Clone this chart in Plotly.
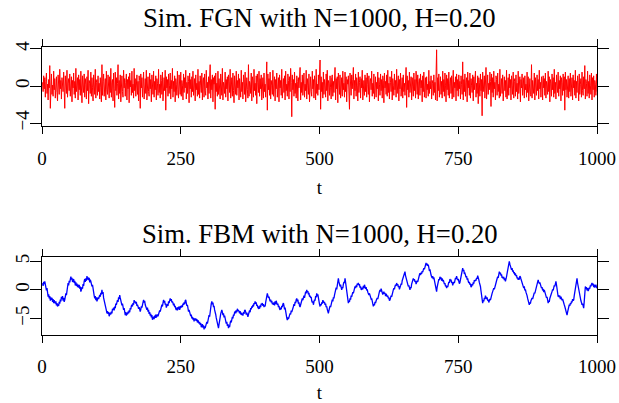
import plotly.graph_objects as go

t = list(range(1, 1001))

fgn = [
    0.4, -0.6, 1.1, -0.3, 0.9, -1.2, 0.5, 1.4, -0.8, 0.2, -1.5, 0.7, -0.2, 2.2, -2.4, 0.6, 1.3, -0.9, 0.1, -1.1,
    1.6, -0.4, 0.8, -1.3, 0.3, 1.0, -0.7, -1.6, 1.2, 0.5, -0.9, 1.8, -0.3, 0.6, -1.4, 0.9, 0.2, -0.6, 1.5, -1.0,
    -2.4, 1.1, 0.4, -0.8, 1.7, -1.2, 0.3, 0.8, -0.5, 1.3,
    -1.1, 0.2, 1.0, -1.7, 0.6, -0.2, 1.4, -0.9, 0.5, -1.3, 1.9, -0.6, 0.1, 0.9, -1.5, 1.2, -0.4, 0.7, -1.0, 1.6,
    -0.3, -1.8, 1.1, 0.4, -0.7, 1.3, -1.2, 0.8, 0.2, -1.4, 1.0, -0.5, 1.7, -1.9, 0.6, 0.3, -0.8, 1.5, -1.1, 0.9,
    -0.2, -1.6, 1.2, 0.5, -0.9, 1.8, -1.3, 0.4, 0.7, -1.0,
    1.1, -0.6, 0.3, -1.4, 0.9, -0.2, -1.7, 2.3, -1.0, 0.5, 1.3, -1.1, 0.2, 0.8, -1.5, 1.6, -0.4, -0.9, 1.2, 0.1,
    -1.3, 1.0, -0.7, 1.9, -1.2, 0.4, 0.7, -1.6, 1.4, -0.3, -2.3, 1.5, -0.5, 0.9, -1.0, 0.3, 2.3, -1.4, 0.6, -0.8,
    1.2, -1.7, 0.5, 1.1, -0.6, -1.2, 1.7, -0.2, 0.8, -1.1,
    0.4, 1.3, -1.5, 0.7, -0.3, 1.0, -1.8, 1.4, -0.1, 0.6, -1.0, 1.6, -0.7, 0.2, -1.3, 1.9, -0.5, 0.8, -1.1, 0.3,
    1.2, -0.9, 0.5, -1.6, 1.1, 0.6, -2.4, 1.3, -0.2, 0.9, -1.2, 0.4, 1.5, -1.4, 0.1, 0.8, -0.8, 1.7, -1.5, 0.3,
    1.0, -0.6, -1.1, 1.4, -0.3, 0.7, -1.7, 1.2, 0.2, -0.9,
    1.6, -1.2, 0.5, -0.4, 1.1, -1.5, 0.8, 0.3, -1.0, 1.8, -0.7, 0.2, -1.3, 1.2, 0.6, -0.9, 1.5, -1.6, 0.4, 0.9,
    -0.5, 1.7, -2.6, 1.0, -0.2, 0.7, -1.1, 1.3, -0.8, 0.1, 1.4, -1.4, 0.6, -0.3, 1.9, -1.2, 0.5, -0.6, 1.1, -1.7,
    0.8, 0.2, -1.0, 1.6, -0.4, -1.3, 1.2, 0.3, -0.9, 1.5,
    -1.1, 0.6, 0.1, -1.5, 1.3, -0.7, 0.9, -0.2, 1.7, -1.4, 0.4, -0.8, 1.1, 0.5, -1.8, 1.4, -0.3, 0.7, -1.2, 1.0,
    -0.6, 1.6, -1.0, 0.2, 0.8, -1.6, 1.2, -0.4, 0.3, -1.1, 1.8, -0.9, 0.5, -1.3, 1.1, 0.1, -0.7, 1.4, -1.5, 0.6,
    0.9, -1.2, 1.3, -0.5, -1.0, 1.7, -0.2, 0.4, -1.4, 1.0,
    -0.8, 0.5, 2.3, -1.3, 0.7, -0.4, 1.2, -1.7, 0.9, 0.2, 1.1, -2.5, 1.4, -0.6, 0.3, -1.1, 1.6, -0.9, 0.8, -0.2,
    -1.4, 1.3, 0.6, -1.0, 1.9, -1.5, 0.4, 0.1, -0.8, 1.5, -1.2, 0.7, -0.3, 1.0, -1.6, 1.2, 0.5, -0.7, 1.8, -1.3,
    0.2, 0.9, -1.1, 1.4, -0.5, -1.8, 1.1, 0.3, -0.9, 1.6,
    -1.0, 0.6, -0.2, 1.3, -1.5, 0.8, 0.1, -1.2, 1.7, -0.6, 0.4, -1.4, 1.2, 0.7, -0.9, 1.5, -1.7, 0.3, 0.9, -0.4,
    -1.3, 2.3, -1.1, 0.5, 0.2, -0.8, 1.4, -1.6, 1.0, 0.6, -1.2, 1.8, -0.5, 0.3, -1.0, 1.1, -1.9, 1.3, 0.4, -0.7,
    1.6, -1.1, 0.8, -0.3, 1.2, -1.5, 0.5, 0.9, -1.3, 1.4,
    -0.6, 0.2, -1.2, 1.1, 2.6, -2.6, 1.3, -0.4, 0.8, -1.0, 1.5, -1.4, 0.6, 0.1, -0.9, 1.7, -1.1, 0.4, 1.0, -1.6,
    0.7, -0.3, 1.4, -1.2, 0.5, 0.9, -1.7, 1.2, -0.2, 0.6, -1.0, 1.8, -1.3, 0.3, 0.8, -0.7, 1.1, -1.5, 1.6, -0.5,
    0.2, -1.1, 1.3, 0.6, -1.4, 1.0, -0.6, 1.9, 0.4, -3.3,
    1.2, -0.4, 0.7, -1.1, 1.5, -0.8, 0.3, -1.3, 1.1, 0.5, -1.6, 0.9, -0.2, 1.3, 2.0, -1.5, 0.4, -0.7, 1.2, -1.0,
    0.6, 1.4, -1.2, 0.2, -0.5, 1.7, -1.4, 0.8, 0.1, -0.9, 1.3, -1.7, 0.5, 1.0, -0.6, -1.1, 1.6, -0.3, 0.7, -1.3,
    1.1, 0.4, -1.5, 1.8, -0.8, 0.2, -1.0, 1.2, -0.4, 0.9,
    2.8, -2.5, 1.0, -0.6, 0.4, -1.3, 1.5, -0.9, 0.7, 0.1, -1.2, 1.3, -0.5, 1.7, -1.6, 0.6, 0.3, -1.0, 1.1, -0.2,
    -1.4, 0.9, 1.2, -1.1, 0.5, -0.7, 0.2, 2.0, -1.5, 0.8, -0.3, 1.0, -1.8, 1.4, 0.6, -0.9, 1.2, -1.3, 0.4, 0.9,
    -1.1, 1.6, -0.4, 0.3, -1.2, 1.5, -0.6, 1.0, -1.7, 0.7,
    0.2, 1.1, -0.8, -2.5, 1.4, 0.5, -1.0, 1.2, -0.3, 0.7, 2.0, -1.4, 0.6, -0.5, 1.3, -1.1, 0.9, 0.1, -1.6, 1.5,
    -0.7, 0.4, 1.0, -1.3, 0.8, -0.2, 1.7, -1.5, 0.3, 0.6, -1.0, 1.2, -0.6, 0.9, -1.2, 1.4, 0.2, -0.9, 1.1, -1.7,
    0.5, 0.8, -0.4, 1.6, -1.1, 0.3, -0.8, 1.3, -1.4, 0.7,
    1.0, -1.2, 0.4, -0.3, 1.5, -1.6, 0.9, 0.2, -1.0, 1.3, -0.5, 0.7, -1.3, 1.1, 0.6, -1.8, 1.4, -0.2, 0.5, -0.9,
    1.2, -1.1, 1.7, -0.7, 0.3, -1.4, 1.0, 0.4, -0.6, 1.6, -1.5, 0.8, 0.1, -1.0, 1.3, -0.4, 0.6, -1.2, 1.8, -0.8,
    0.2, 1.1, -1.6, 0.7, -0.3, 1.4, -1.1, 0.5, 0.9, -1.3,
    1.2, -0.6, 0.3, -1.0, 0.8, 2.0, -2.3, 1.1, -0.4, 0.6, -1.2, 1.5, -0.7, 0.2, 1.0, -1.5, 0.9, -0.1, -1.1, 1.4,
    -0.5, 0.7, -1.3, 1.6, 0.3, -0.9, 1.2, -1.4, 0.5, 0.8, -1.0, 1.3, -0.2, 0.6, -1.7, 1.1, -0.6, 1.5, -1.2, 0.4,
    0.9, -1.3, 1.0, -0.4, 0.2, -1.1, 1.7, -0.8, 0.5, -0.3,
    1.1, -1.4, 0.6, 0.3, -1.0, 1.2, -0.7, 0.4, -1.5, 0.8, 3.9, -1.6, 0.9, -0.5, 1.3, -1.2, 0.2, 1.0, -0.9, 0.5,
    -1.3, 1.6, -0.6, 0.7, -1.1, 1.4, 0.1, -1.7, 1.2, -0.4, 0.8, -1.0, 1.5, -1.3, 0.3, 0.9, -0.8, 1.1, -1.4, 0.6,
    1.7, -1.2, 0.4, -0.2, 1.0, -1.6, 1.3, -0.5, 0.7, -1.1,
    1.2, -0.3, 0.5, -1.4, 1.1, 0.2, -0.9, 2.6, -1.5, 0.7, -0.6, 1.3, -1.1, 0.4, 0.9, -1.7, 1.5, -0.2, 0.6, -1.0,
    1.4, -1.3, 0.8, 0.1, -0.7, 1.2, -1.6, 1.0, -0.4, 0.5, 1.6, -1.2, 0.3, -0.8, 1.1, -1.9, 0.9, 0.4, -1.1, 1.3,
    -0.5, 0.7, -3.2, 1.5, -0.6, 0.2, 1.1, -1.3, 0.8, 2.0,
    -1.4, 0.6, 1.2, -0.9, 0.3, -0.4, 1.5, 0.5, -2.2, 1.3, -0.7, 0.9, -1.2, 1.6, -0.3, 0.4, -1.5, 1.1, 0.7, -1.0,
    1.4, -0.6, 0.2, -1.3, 1.8, -1.1, 0.5, 0.8, -0.8, 1.2, -1.6, 0.3, 1.0, -0.5, 0.6, -1.2, 1.7, -1.4, 0.4, 0.9,
    -1.0, 1.3, -0.2, 0.7, -1.5, 1.1, 0.1, -0.9, 1.5, -1.3,
    0.5, 0.8, -1.1, 1.2, -0.6, 0.3, -1.4, 1.6, -0.8, 0.4, 1.0, -1.7, 0.7, -0.2, 1.3, -1.0, 0.6, 0.9, -1.3, 1.1,
    -0.4, 0.2, -1.2, 1.5, -0.7, 1.0, -1.6, 0.5, 0.8, -0.9, -1.1, 2.3, -1.3, 0.6, 0.1, -0.8, 1.4, -1.5, 0.9, 0.3,
    -1.0, 1.2, -0.5, 0.7, -1.4, 1.7, -0.3, 0.4, -1.2, 1.0,
    0.6, -1.5, 1.1, -0.2, 0.8, -1.0, 1.4, -1.3, 0.5, 0.2, -0.9, 1.6, -0.6, 1.0, -1.7, 0.7, 0.3, -1.1, 1.3, -0.4,
    0.9, -1.2, 1.8, -0.8, 0.4, -1.4, 1.2, 0.1, -0.7, 1.5, -1.1, 0.6, -0.3, 1.1, -1.6, 0.9, 0.4, -1.0, 1.3, -0.5,
    1.0, -2.6, 1.5, -0.4, 0.7, -1.2, 0.2, 1.1, -1.3, 0.8,
    -0.6, 1.4, -1.1, 0.3, 0.9, -1.5, 1.2, -0.2, 0.6, -1.0, 1.7, -1.3, 0.5, -0.7, 1.1, 0.4, -1.6, 1.3, -0.9, 0.2,
    0.8, -1.2, 1.5, -0.5, -1.0, 1.0, -0.3, 2.2, -1.4, 0.7, 0.3, -1.1, 1.6, -0.8, 0.5, -1.3, 1.2, 0.1, -0.9, 1.4,
    -1.5, 0.9, -0.4, 1.1, -1.2, 0.6, 0.2, -1.0, 1.3, -0.6,
]

fbm = [
    1.2, 0.7, 1.4, 1.0, 1.5, 0.9, 0.6, -0.1, 0.3, -0.6, -1.2, -0.8, -1.5, -1.1, -1.9, -1.3, -1.75, -1.4, -2.1, -1.6,
    -2.3, -1.8, -2.0, -2.4, -2.0, -2.7, -2.3, -2.9, -2.5, -2.8, -2.1, -2.4, -1.7, -2.0, -1.2, -1.6, -1.1, -1.9, -1.4, -2.1,
    -1.75, -1.3, -0.6, -0.9, 0.1, 0.6, 1.2, 0.8, 1.6, 1.3,
    2.0, 2.3, 1.8, 2.1, 1.4, 1.5, 1.9, 1.2, 1.6, 0.8, 1.3, 0.7, 1.1, 0.5, 0.9, 0.4, 0.9, 0.2, 0.6, -0.3,
    0.0, 0.5, 0.2, 1.0, 0.7, 1.5, 1.9, 1.4, 2.0, 1.6, 2.4, 1.8, 2.2, 1.7, 2.1, 1.3, 1.8, 1.5, 1.0, 0.6,
    0.9, -0.2, -0.6, -1.0, -1.5, -1.1, -1.8, -1.3, -2.0, -1.75,
    -1.3, -1.6, -1.0, -0.9, -1.2, -0.5, -0.8, 0.0, -0.7, -0.4, -1.4, -2.0, -2.3, -2.9, -3.2, -3.6, -4.1, -3.7, -4.2, -3.9,
    -4.6, -4.4, -4.0, -4.3, -3.8, -4.1, -3.3, -3.5, -3.1, -3.6, -2.9, -3.2, -2.4, -2.6, -2.2, -1.8, -2.1, -1.3, -1.6, -0.9,
    -1.4, -1.9, -2.3, -2.7, -2.4, -3.1, -3.5, -3.2, -4.0, -4.4,
    -3.9, -4.5, -4.0, -4.3, -3.8, -4.1, -3.6, -3.9, -3.2, -3.4, -2.8, -2.6, -2.9, -2.3, -2.6, -1.8, -2.2, -2.0, -2.4, -2.1,
    -2.8, -2.6, -2.9, -3.3, -3.0, -3.6, -3.8, -3.4, -2.9, -3.1, -2.4, -2.0, -1.75, -2.2, -1.9, -2.6, -2.9, -3.2, -3.5, -3.1,
    -3.8, -3.5, -4.2, -3.9, -4.5, -4.2, -4.8, -4.4, -5.2, -5.0,
    -4.7, -5.1, -4.5, -4.9, -4.3, -4.8, -4.6, -4.3, -4.6, -4.0, -4.2, -3.6, -3.8, -3.3, -3.0, -2.6, -2.9, -2.1, -1.75, -2.2,
    -1.9, -2.6, -2.4, -3.1, -2.9, -2.5, -2.8, -2.0, -2.3, -1.7, -1.5, -1.9, -1.6, -2.2, -2.0, -2.3, -2.7, -2.4, -3.0, -2.8,
    -3.3, -3.5, -3.1, -3.6, -3.0, -3.4, -2.9, -3.5, -3.2, -2.8,
    -3.1, -2.7, -3.0, -2.4, -2.6, -2.2, -2.5, -1.9, -1.75, -2.3, -2.8, -2.6, -3.4, -3.8, -3.5, -4.1, -3.9, -4.6, -4.3, -5.0,
    -4.7, -5.2, -4.9, -5.5, -5.0, -5.3, -5.0, -5.4, -5.1, -5.7, -5.3, -5.6, -5.9, -5.6, -6.1, -5.8, -6.5, -6.4, -6.0, -6.6,
    -6.2, -6.9, -6.4, -6.7, -6.3, -6.0, -5.6, -5.9, -5.3, -5.0,
    -4.4, -4.7, -3.6, -3.0, -2.4, -2.0, -2.5, -2.2, -3.0, -2.8, -3.5, -3.8, -4.3, -4.9, -5.4, -5.9, -6.3, -6.7, -6.0, -5.6,
    -4.8, -4.2, -3.8, -3.5, -3.9, -4.4, -4.1, -4.8, -4.5, -5.0, -5.4, -5.9, -5.6, -6.3, -6.0, -6.7, -6.2, -6.5, -5.8, -5.4,
    -5.7, -5.0, -4.7, -5.0, -4.3, -4.5, -3.9, -3.8, -4.1, -3.6,
    -3.9, -3.3, -3.7, -3.5, -3.8, -4.1, -3.7, -4.3, -4.0, -4.4, -4.1, -4.5, -3.9, -4.2, -3.6, -3.5, -3.9, -4.3, -4.0, -4.5,
    -4.7, -4.3, -4.0, -3.6, -3.9, -3.2, -3.4, -2.9, -3.1, -2.6, -2.9, -2.3, -2.5, -2.0, -2.4, -2.2, -2.8, -2.6, -3.1, -3.2,
    -2.9, -3.3, -2.7, -3.0, -2.4, -2.6, -2.3, -2.8, -2.5, -3.0,
    -2.7, -2.9, -2.2, -1.6, -1.1, -0.6, -1.0, -1.4, -1.2, -1.8, -2.0, -1.7, -2.2, -1.9, -2.5, -2.3, -2.6, -2.2, -2.7, -2.0,
    -2.5, -1.9, -2.3, -2.6, -2.4, -3.0, -2.8, -3.3, -3.5, -3.1, -3.4, -2.8, -3.0, -2.5, -2.3, -2.8, -3.4, -3.1, -4.0, -4.4,
    -4.9, -5.3, -4.8, -5.1, -4.5, -4.7, -4.1, -4.3, -3.6, -3.9,
    -3.3, -3.0, -2.9, -2.5, -2.8, -2.1, -2.3, -1.7, -1.5, -2.0, -1.7, -2.4, -2.2, -2.8, -3.0, -2.6, -2.3, -2.0, -1.5, -1.8,
    -1.3, -1.0, -1.4, -0.7, -0.3, -0.6, 0.0, -0.4, -0.2, -0.8, -0.5, -1.2, -1.0, -1.4, -1.2, -1.9, -2.2, -2.0, -2.6, -2.1,
    -1.7, -1.9, -1.1, -1.3, -0.6, -1.1, -0.8, -1.7, -2.2, -2.5,
    -2.9, -2.5, -2.7, -2.2, -2.4, -1.8, -2.0, -2.3, -2.1, -2.6, -2.4, -3.0, -2.9, -3.4, -3.7, -4.1, -3.6, -3.3, -2.8, -3.0,
    -2.4, -2.0, -1.7, -2.0, -1.3, -1.5, -0.9, -0.6, -0.2, 0.4, 0.1, 0.9, 1.5, 2.0, 1.4, 1.0, 0.6, 0.9, 0.3, 0.0,
    0.5, 0.3, 1.0, 1.4, 1.2, 2.0, 1.3, 0.6, -0.4, -1.3,
    -1.8, -2.3, -1.9, -2.1, -1.5, -1.7, -1.0, -1.2, -0.8, -0.4, -0.6, 0.1, 0.3, 0.6, 0.3, 0.8, 0.5, 1.1, 0.9, 1.2,
    0.8, 1.0, 0.4, 0.6, 0.1, 0.0, 0.4, 0.1, 0.7, 0.3, 0.9, 0.6, 0.2, 0.5, -0.1, 0.1, -0.4, -0.6, -0.9, -0.6,
    -1.2, -1.0, -1.6, -1.5, -1.9, -2.4, -2.9, -2.5, -2.7, -2.1,
    -2.3, -1.9, -1.75, -1.4, -1.6, -0.9, -0.6, -0.3, 0.0, -0.3, 0.2, -0.4, -0.2, -0.8, -0.6, -0.3, -0.7, -0.5, -1.1, -0.7,
    -0.9, -1.2, -1.0, -1.5, -1.3, -1.9, -1.75, -1.4, -1.0, -1.2, -0.5, -0.3, 0.0, 0.3, 0.1, 0.6, 0.9, 0.7, 1.2, 0.8,
    1.0, 0.5, 0.7, 0.1, 0.3, 0.7, 1.1, 0.9, 1.6, 1.9,
    2.3, 2.6, 2.9, 3.2, 2.5, 2.0, 1.6, 1.2, 1.0, 0.6, 0.8, 0.2, 0.0, 0.5, 0.3, 1.0, 1.3, 1.6, 2.0, 1.7,
    1.9, 1.4, 1.6, 1.0, 1.2, 1.6, 1.4, 2.0, 2.3, 2.6, 2.9, 2.6, 3.0, 2.8, 3.3, 3.1, 3.5, 3.8, 3.6, 4.2,
    4.4, 4.7, 4.3, 4.6, 4.2, 4.4, 3.9, 3.3, 3.6, 2.8,
    2.6, 2.3, 2.1, 2.4, 1.9, 2.2, 1.6, 1.75, 1.0, 0.4, -0.3, 0.5, 1.0, 1.4, 1.9, 1.7, 2.3, 1.9, 2.2, 1.6,
    2.0, 1.5, 1.75, 1.4, 1.0, 1.2, 0.6, 0.8, 0.3, 0.7, 0.5, 1.1, 1.4, 1.2, 1.9, 1.5, 1.8, 1.2, 1.4, 0.8,
    1.0, 1.4, 1.2, 1.8, 2.1, 1.9, 2.4, 2.0, 1.7, 1.9,
    1.5, 1.1, 1.3, 1.9, 2.5, 2.9, 3.4, 3.8, 3.3, 3.5, 2.8, 2.9, 2.6, 2.2, 2.4, 1.8, 2.0, 1.5, 1.2, 1.4,
    0.9, 1.1, 0.5, 0.6, 1.0, 0.8, 1.3, 1.1, 1.7, 1.5, 1.8, 1.6, 2.1, 1.9, 2.5, 2.3, 1.8, 1.3, 1.0, 0.6,
    -0.2, -1.0, -1.7, -2.3, -1.8, -2.0, -1.4, -1.6, -1.0, -1.2,
    -1.6, -1.3, -1.9, -1.7, -2.2, -2.0, -1.6, -1.8, -1.2, -0.9, -0.6, -0.3, -0.1, 0.3, 0.1, 0.7, 0.9, 1.2, 1.6, 1.9,
    2.3, 2.1, 2.8, 3.2, 2.8, 3.0, 2.5, 2.7, 2.1, 2.3, 2.0, 2.3, 1.7, 2.0, 1.5, 1.75, 2.3, 2.9, 3.4, 3.9,
    4.5, 5.0, 4.5, 4.1, 3.8, 3.5, 3.8, 3.2, 3.4, 2.9,
    3.1, 2.6, 2.9, 2.4, 2.6, 2.0, 2.2, 1.75, 2.1, 1.8, 2.4, 2.3, 1.9, 1.5, 1.1, 0.9, 0.6, 0.3, 0.6, -0.1,
    0.1, -0.4, -0.6, -1.0, -1.5, -1.8, -2.3, -2.6, -2.2, -2.4, -1.9, -1.75, -1.4, -1.6, -1.0, -1.2, -0.5, -0.6, -0.1, 0.3,
    0.6, 1.1, 1.4, 1.75, 1.4, 1.1, 1.3, 0.7, 0.5, 0.3,
    0.5, -0.1, 0.2, -0.4, 0.0, -0.3, -0.7, -1.0, -1.4, -1.2, -1.9, -2.3, -1.9, -2.1, -1.5, -1.3, -0.8, -0.6, -0.3, 0.1,
    -0.1, 0.5, 0.8, 0.6, 1.2, 1.5, 0.9, 0.2, -0.6, -1.2, -0.9, -1.3, -1.0, -1.6, -1.2, -1.5, -1.8, -1.6, -2.2, -2.0,
    -2.6, -2.9, -3.3, -3.8, -4.1, -4.4, -3.9, -3.4, -3.0, -2.6,
    -2.8, -2.3, -2.5, -2.0, -2.2, -1.6, -1.9, -1.75, -1.0, -0.2, 0.6, 1.1, 1.6, 2.0, 1.2, 0.6, 0.1, -0.6, -1.0, -1.5,
    -1.9, -2.2, -2.6, -2.4, -3.0, -3.2, -2.0, -0.8, 0.6, 0.2, 0.5, -0.1, 0.3, -0.2, 0.0, 0.4, 0.2, 0.8, 0.6, 1.0,
    1.2, 0.8, 1.1, 0.5, 0.9, 0.4, 0.6, 0.9, 0.5, 0.3,
]

x_ticks = [0, 250, 500, 750, 1000]
fgn_ticks = [-4, 0, 4]
fbm_ticks = [-5, 0, 5]
titles = ["Sim. FGN with N=1000, H=0.20", "Sim. FBM with N=1000, H=0.20"]
x_label = "t"

W, H = 619, 403
FONT = "Liberation Serif"

def px_x(v):
    return v / W

def px_y(v):
    return 1 - v / H

fig = go.Figure()
fig.add_trace(go.Scatter(x=t, y=fgn, mode="lines", line=dict(color="#ff0000", width=1),
                         xaxis="x", yaxis="y", hoverinfo="skip"))
fig.add_trace(go.Scatter(x=t, y=fbm, mode="lines", line=dict(color="#0000ff", width=1.3),
                         xaxis="x2", yaxis="y2", hoverinfo="skip"))

common_x = dict(range=[0, 1000], tickvals=x_ticks, ticks="outside", ticklen=7, tickwidth=1,
                tickcolor="black", showline=True, linecolor="black", linewidth=1, mirror="ticks",
                showgrid=False, zeroline=False, automargin=False, ticklabeloverflow="allow",
                tickfont=dict(family=FONT, size=19, color="black"),
                ticklabelstandoff=8,
                title=dict(text=x_label, font=dict(family=FONT, size=19, color="black"), standoff=12))
common_y = dict(ticks="outside", ticklen=11, tickwidth=1, tickcolor="black", showline=True,
                linecolor="black", linewidth=1, mirror="ticks", showgrid=False, zeroline=False,
                automargin=False, tickangle=-90, ticklabelstandoff=-7, ticklabeloverflow="allow",
                tickfont=dict(family=FONT, size=19, color="black"))

fig.update_layout(
    width=W, height=H, margin=dict(l=0, r=0, t=0, b=0),
    paper_bgcolor="white", plot_bgcolor="white", showlegend=False,
    xaxis=dict(domain=[px_x(42), px_x(597)], anchor="y", **common_x),
    yaxis=dict(domain=[px_y(126), px_y(47)], anchor="x", range=[-4.3, 4.2], tickvals=fgn_ticks, **common_y),
    xaxis2=dict(domain=[px_x(42), px_x(597)], anchor="y2", **common_x),
    yaxis2=dict(domain=[px_y(334.5), px_y(257)], anchor="x2", range=[-7.8, 5.75], tickvals=fbm_ticks, **common_y),
    annotations=[
        dict(text=titles[0], x=px_x(319.5), y=px_y(18), xref="paper", yref="paper",
             showarrow=False, xanchor="center", yanchor="middle",
             font=dict(family=FONT, size=26.7, color="black")),
        dict(text=titles[1], x=px_x(319.5), y=px_y(234), xref="paper", yref="paper",
             showarrow=False, xanchor="center", yanchor="middle",
             font=dict(family=FONT, size=26.7, color="black")),
    ],
)

# Let the figure fill the whole window (remove the browser's default 8px body margin).
fig.write_html("out.html", config={"displayModeBar": False},
               post_script="document.body.style.margin='0';")
